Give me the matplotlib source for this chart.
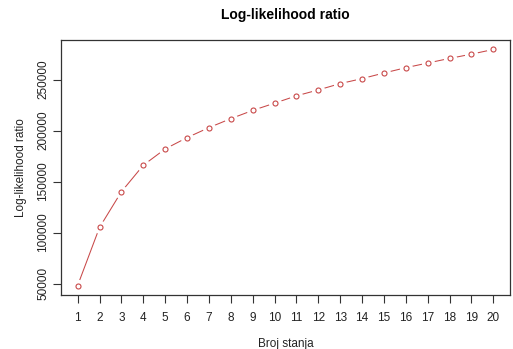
import matplotlib
matplotlib.use("Agg")
import matplotlib.pyplot as plt

plt.rcParams['font.family'] = ['Liberation Sans', 'DejaVu Sans']

broj_stanja = list(range(1, 21))
llr = [48000, 105000, 140000, 166000, 182000, 193100, 202900, 211700, 219800, 226900,
       234100, 239900, 246100, 251000, 256500, 261700, 266300, 270800, 275000, 279600]
y_ticks = [50000, 100000, 150000, 200000, 250000]

col = "#C84848"

fig = plt.figure(figsize=(5.13, 3.49), dpi=100)
ax = fig.add_axes([61/513, 1 - 295/349, (510 - 61)/513, (295 - 40)/349])

# R type="b": line with gaps around the points
ax.plot(broj_stanja, llr, color=col, lw=0.75, zorder=1)
ax.plot(broj_stanja, llr, linestyle="none", marker="o", ms=9.5, mfc="white", mec="none", zorder=2)
ax.plot(broj_stanja, llr, linestyle="none", marker="o", ms=3.6, mfc="none", mec=col, mew=0.8, zorder=3)

span = max(llr) - min(llr)
ax.set_ylim(min(llr) - 0.04 * span, max(llr) + 0.04 * span)
ax.set_xlim(1 - 0.04 * 19, 20 + 0.04 * 19)

ax.set_xticks(broj_stanja)
ax.set_yticks(y_ticks)
ax.set_yticklabels([str(v) for v in y_ticks], rotation=90, va="center")
ax.tick_params(direction="out", length=6, width=0.8, colors="#333333", labelsize=8.5, pad=6)
ax.tick_params(axis="y", pad=2.5)
ax.tick_params(axis="both", labelcolor="#222222")
for s in ax.spines.values():
    s.set_color("#333333")
    s.set_linewidth(0.9)

ax.set_xlabel("Broj stanja", fontsize=8.5, labelpad=10, color="#222222")
ax.set_ylabel("Log-likelihood ratio", fontsize=8.5, labelpad=7, color="#222222")
fig.text((61 + 510) / 2 / 513, 1 - 15 / 349, "Log-likelihood ratio", fontsize=10,
         fontweight="bold", ha="center", va="center")

fig.savefig("out.png", dpi=100)
